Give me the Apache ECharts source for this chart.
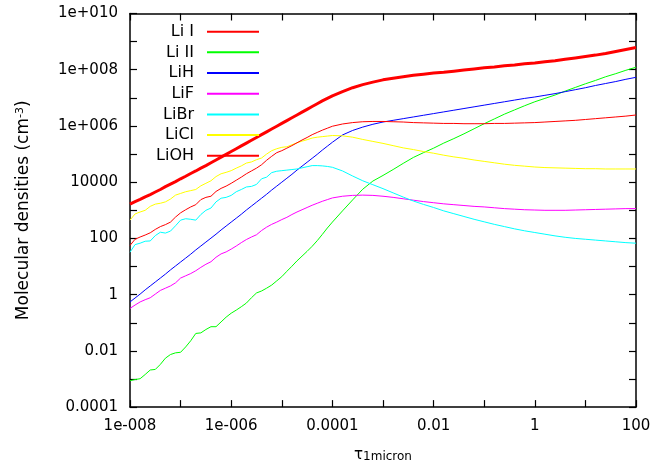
<!DOCTYPE html>
<html>
<head>
<meta charset="utf-8">
<script src="https://cdn.jsdelivr.net/npm/echarts@6/dist/echarts.min.js"></script>
<style>
html,body{margin:0;padding:0;background:#fff;}
#chart{width:666px;height:468px;}
</style>
</head>
<body>
<div id="chart"></div>
<script>
// log10(tau_1micron) sample positions
var logTau = [-8.0,-7.9,-7.8,-7.7,-7.6,-7.5,-7.4,-7.3,-7.2,-7.1,-7.0,-6.9,-6.8,-6.7,-6.6,-6.5,-6.4,-6.3,-6.2,-6.1,
  -6.0,-5.9,-5.8,-5.7,-5.6,-5.5,-5.4,-5.3,-5.2,-5.1,-5.0,-4.9,-4.8,-4.7,-4.6,-4.5,-4.4,-4.3,-4.2,-4.1,-4.0,
  -3.8,-3.6,-3.4,-3.2,-3.0,-2.8,-2.6,-2.4,-2.2,-2.0,-1.8,-1.6,-1.4,-1.2,-1.0,-0.8,-0.6,-0.4,-0.2,0,
  0.2,0.4,0.6,0.8,1.0,1.2,1.4,1.6,1.8,2.0];

// log10 of molecular densities (cm^-3)
var liI = [3.22,3.31,3.39,3.48,3.56,3.65,3.74,3.84,3.93,4.02,4.12,4.21,4.31,4.40,4.50,4.59,4.69,4.79,4.89,4.99,
  5.09,5.19,5.29,5.39,5.49,5.59,5.69,5.79,5.89,5.99,6.09,6.19,6.29,6.39,6.49,6.59,6.69,6.79,6.89,6.98,7.07,
  7.22,7.36,7.47,7.56,7.64,7.70,7.75,7.80,7.84,7.88,7.91,7.95,7.99,8.03,8.07,8.10,8.14,8.17,8.21,8.24,
  8.28,8.32,8.37,8.42,8.47,8.52,8.58,8.65,8.72,8.79];
var liII = [-3.06,-3.02,-2.99,-2.84,-2.68,-2.66,-2.48,-2.26,-2.13,-2.07,-2.05,-1.86,-1.64,-1.38,-1.36,-1.24,-1.14,-1.14,-0.97,-0.80,
  -0.66,-0.55,-0.43,-0.30,-0.11,0.06,0.13,0.23,0.34,0.49,0.64,0.83,1.01,1.20,1.37,1.54,1.72,1.92,2.14,2.37,2.58,
  2.98,3.37,3.75,4.04,4.24,4.45,4.67,4.88,5.05,5.21,5.39,5.55,5.72,5.90,6.08,6.25,6.42,6.57,6.72,6.86,
  6.98,7.10,7.24,7.37,7.50,7.62,7.75,7.86,7.98,8.09];
var liH = [-0.26,-0.12,0.02,0.17,0.31,0.45,0.59,0.73,0.88,1.02,1.16,1.30,1.44,1.59,1.73,1.87,2.01,2.15,2.30,2.44,
  2.58,2.72,2.86,3.01,3.15,3.29,3.43,3.57,3.72,3.86,4.00,4.14,4.28,4.43,4.57,4.71,4.85,4.99,5.14,5.28,5.42,
  5.68,5.84,5.96,6.06,6.14,6.20,6.26,6.32,6.38,6.44,6.50,6.56,6.62,6.68,6.74,6.80,6.86,6.92,6.98,7.03,
  7.09,7.15,7.22,7.29,7.36,7.44,7.51,7.58,7.66,7.73];
var liF = [-0.49,-0.37,-0.26,-0.18,-0.11,0.02,0.15,0.23,0.31,0.42,0.59,0.67,0.75,0.85,0.97,1.08,1.17,1.33,1.45,1.52,
  1.62,1.73,1.85,1.96,2.05,2.13,2.28,2.40,2.50,2.58,2.67,2.75,2.85,2.94,3.02,3.10,3.18,3.25,3.32,3.38,3.44,
  3.50,3.53,3.54,3.53,3.50,3.46,3.41,3.36,3.31,3.27,3.23,3.20,3.17,3.14,3.12,3.09,3.06,3.04,3.02,3.01,
  3.00,3.00,3.00,3.01,3.02,3.03,3.04,3.05,3.06,3.06];
var liBr = [1.51,1.78,1.83,1.90,1.91,2.10,2.22,2.19,2.26,2.45,2.65,2.70,2.68,2.65,2.85,3.00,3.08,3.30,3.43,3.46,
  3.53,3.66,3.74,3.83,3.85,3.92,4.12,4.18,4.34,4.39,4.41,4.43,4.45,4.47,4.51,4.55,4.59,4.59,4.58,4.56,4.53,
  4.40,4.22,4.05,3.91,3.77,3.62,3.47,3.33,3.21,3.10,2.98,2.88,2.78,2.68,2.59,2.50,2.42,2.34,2.27,2.21,
  2.15,2.09,2.04,2.00,1.97,1.94,1.91,1.88,1.85,1.83];
var liCl = [2.65,2.87,2.94,3.00,3.14,3.22,3.25,3.30,3.40,3.54,3.60,3.66,3.70,3.74,3.87,3.96,4.05,4.20,4.30,4.35,
  4.41,4.50,4.58,4.68,4.72,4.80,4.86,5.00,5.12,5.19,5.24,5.26,5.33,5.40,5.46,5.51,5.57,5.60,5.62,5.64,5.66,
  5.65,5.60,5.52,5.45,5.38,5.30,5.22,5.16,5.09,5.03,4.96,4.90,4.85,4.79,4.74,4.69,4.64,4.60,4.57,4.54,
  4.52,4.51,4.50,4.49,4.48,4.48,4.47,4.47,4.47,4.47];
var liOH = [1.75,1.97,2.05,2.12,2.20,2.32,2.42,2.49,2.58,2.76,2.91,3.02,3.12,3.20,3.38,3.46,3.50,3.67,3.78,3.86,
  3.96,4.07,4.18,4.30,4.40,4.50,4.62,4.78,4.92,5.05,5.12,5.21,5.30,5.40,5.50,5.59,5.69,5.77,5.85,5.92,5.99,
  6.07,6.12,6.15,6.16,6.16,6.15,6.14,6.12,6.11,6.10,6.09,6.09,6.08,6.08,6.08,6.09,6.09,6.10,6.11,6.12,
  6.14,6.16,6.18,6.20,6.23,6.26,6.29,6.32,6.35,6.39];

var seriesNames = ['Li I','Li II','LiH','LiF','LiBr','LiCl','LiOH'];
var seriesValues = [liI, liII, liH, liF, liBr, liCl, liOH];

// tick labels (positions in log10 units)
var xTickValues = [-8,-6,-4,-2,0,2];
var xTickLabels = ['1e-008','1e-006','0.0001','0.01','1','100'];
var yTickValues = [-4,-2,0,2,4,6,8,10];
var yTickLabels = ['0.0001','0.01','1','100','10000','1e+006','1e+008','1e+010'];

var colors = ['#ff0000','#00ff00','#0000ff','#ff00ff','#00ffff','#ffff00','#ff0000'];
var widths = [3,1,1,1,1,1,1];
var FONT = 'DejaVu Sans';

function fmt(vals, labels) {
  return function (v) {
    var i = vals.indexOf(Math.round(v * 1000) / 1000);
    return i >= 0 ? labels[i] : '';
  };
}

var chart = echarts.init(document.getElementById('chart'), null, {renderer: 'canvas'});
var axisLine = {show: true, onZero: false, lineStyle: {color: '#000', width: 1.5}};
var axisTick = {show: true, inside: true, length: 7, lineStyle: {color: '#000', width: 1.2}};

chart.setOption({
  animation: false,
  backgroundColor: '#fff',
  grid: {left: 130, right: 30, top: 13.5, bottom: 58, containLabel: false},
  legend: {
    orient: 'vertical', align: 'right', right: 406, top: 23.7, padding: 0,
    itemWidth: 52, itemHeight: 14, itemGap: 4.67,
    data: seriesNames,
    itemStyle: {opacity: 0},
    textStyle: {fontFamily: FONT, fontSize: 16, color: '#000', lineHeight: 14, padding: [0, 8, 0, 0]}
  },
  xAxis: [{
    type: 'value', min: -8, max: 2, interval: 1, position: 'bottom',
    axisLine: axisLine, axisTick: axisTick, splitLine: {show: false},
    axisLabel: {formatter: fmt(xTickValues, xTickLabels), fontFamily: FONT, fontSize: 15, color: '#000', margin: 12},
    name: '{t|τ}{s|1micron}', nameLocation: 'middle', nameGap: 35,
    nameTextStyle: {
      fontFamily: FONT, color: '#000',
      rich: {
        t: {fontFamily: FONT, fontSize: 15, lineHeight: 15, verticalAlign: 'top', color: '#000'},
        s: {fontFamily: FONT, fontSize: 12, lineHeight: 12, verticalAlign: 'bottom', padding: [12, 0, 0, 0], color: '#000'}
      }
    }
  }, {
    type: 'value', min: -8, max: 2, interval: 1, position: 'top',
    axisLine: axisLine, axisTick: axisTick, splitLine: {show: false}, axisLabel: {show: false}
  }],
  yAxis: [{
    type: 'value', min: -4, max: 10, interval: 1, position: 'left',
    axisLine: axisLine, axisTick: axisTick, splitLine: {show: false},
    axisLabel: {formatter: fmt(yTickValues, yTickLabels), fontFamily: FONT, fontSize: 15, color: '#000', margin: 12},
    name: '{a|Molecular densities (cm}{b|-3}{a|)}', nameLocation: 'middle', nameGap: 98,
    nameTextStyle: {
      fontFamily: FONT, color: '#000',
      rich: {
        a: {fontFamily: FONT, fontSize: 17, lineHeight: 17, verticalAlign: 'bottom', color: '#000'},
        b: {fontFamily: FONT, fontSize: 11, lineHeight: 11, verticalAlign: 'top', padding: [0, 0, 14, 0], color: '#000'}
      }
    }
  }, {
    type: 'value', min: -4, max: 10, interval: 1, position: 'right',
    axisLine: axisLine, axisTick: axisTick, splitLine: {show: false}, axisLabel: {show: false}
  }],
  series: seriesNames.map(function (name, k) {
    return {
      name: name, type: 'line', xAxisIndex: 0, yAxisIndex: 0,
      symbol: 'none', showSymbol: false, smooth: false,
      color: colors[k],
      lineStyle: {color: colors[k], width: widths[k]},
      data: logTau.map(function (t, i) { return [t, seriesValues[k][i]]; })
    };
  })
});
</script>
</body>
</html>
